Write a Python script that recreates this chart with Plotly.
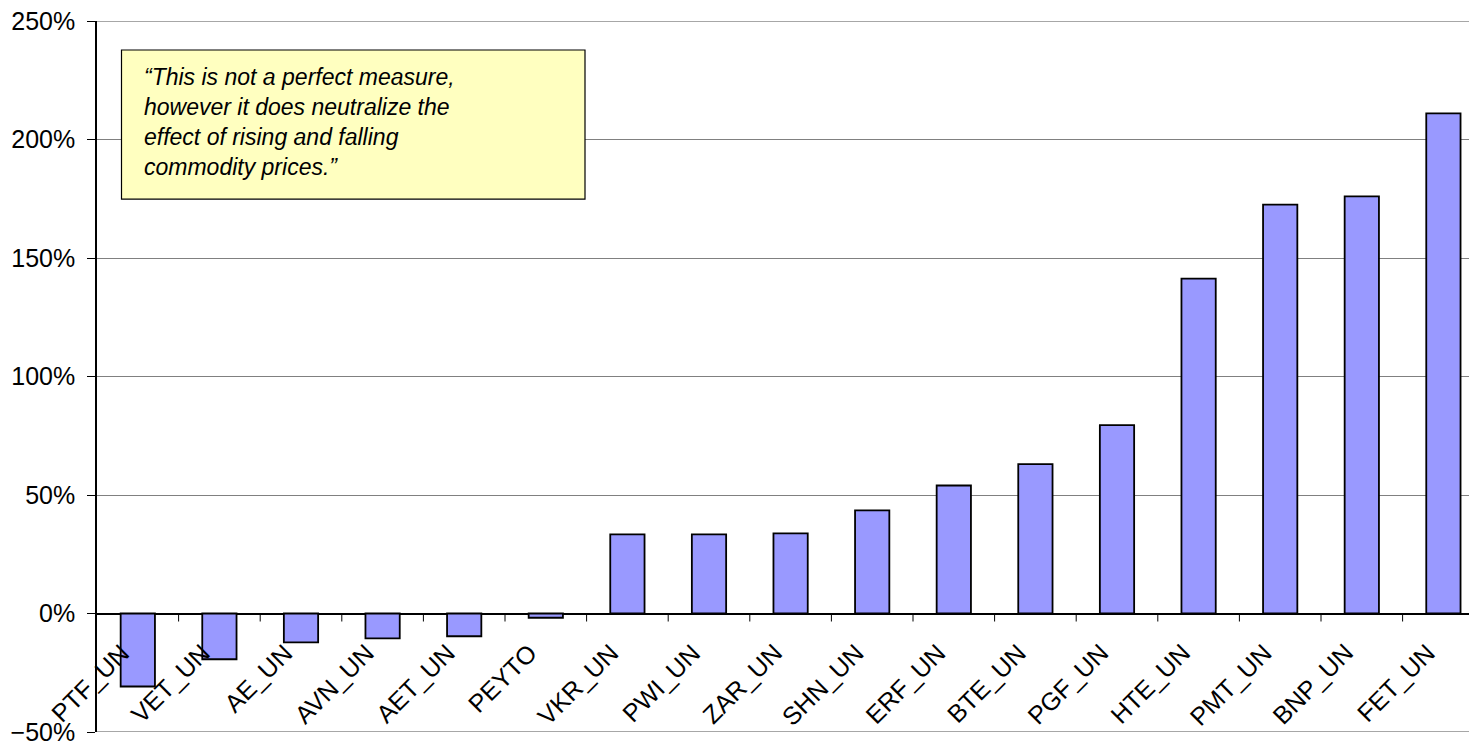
import plotly.graph_objects as go

categories = ["PTF_UN", "VET_UN", "AE_UN", "AVN_UN", "AET_UN", "PEYTO", "VKR_UN",
              "PWI_UN", "ZAR_UN", "SHN_UN", "ERF_UN", "BTE_UN", "PGF_UN", "HTE_UN",
              "PMT_UN", "BNP_UN", "FET_UN"]
values = [-0.308, -0.193, -0.122, -0.105, -0.096, -0.018, 0.334,
          0.334, 0.338, 0.435, 0.540, 0.630, 0.795, 1.413,
          1.725, 1.760, 2.110]
y_ticks = [-0.5, 0, 0.5, 1.0, 1.5, 2.0, 2.5]
quote_lines = ["\u201cThis is not a perfect measure,",
               "however it does neutralize the",
               "effect of rising and falling",
               "commodity prices.\u201d"]

# page offset from default body margin
OFF = 8
W, H = 1477 - OFF, 742
PLOT_L, PLOT_R, PLOT_T, PLOT_B = 97, 1477, 21, 731.7   # page pixel coords
ML = PLOT_L - OFF
MT = PLOT_T - OFF
MR = 0
plot_w = PLOT_R - PLOT_L
plot_h = PLOT_B - PLOT_T
MB = H - MT - plot_h
cat_px = 81.6
FONT = "Arial, Liberation Sans, sans-serif"

fig = go.Figure()
fig.add_trace(go.Bar(
    x=list(range(len(categories))), y=values,
    marker=dict(color="#9999FF", line=dict(color="black", width=1.8)),
    width=0.42, hoverinfo="skip", showlegend=False,
))

shapes = []
# gridlines at the range ends (Plotly omits them at the plot edges)
for yv in (y_ticks[0], y_ticks[-1]):
    shapes.append(dict(type="line", xref="paper", yref="y", x0=0, x1=1, y0=yv, y1=yv,
                       line=dict(color="#8a8a8a", width=1.5), layer="below"))
for i in range(len(categories) - 1):
    shapes.append(dict(type="line", xref="x", yref="y", x0=i + 0.5, x1=i + 0.5,
                       ysizemode="pixel", yanchor=0, y0=0, y1=-8,
                       line=dict(color="black", width=1)))

def px_to_paper_x(px):
    return (px - PLOT_L) / plot_w

def px_to_paper_y(py):
    return (PLOT_B - py) / plot_h

shapes.append(dict(type="rect", xref="paper", yref="paper",
                   x0=px_to_paper_x(121.5), x1=px_to_paper_x(585),
                   y0=px_to_paper_y(199), y1=px_to_paper_y(50),
                   fillcolor="#FFFFC0", line=dict(color="black", width=1.2), layer="above"))

annotations = []
for i, c in enumerate(categories):
    annotations.append(dict(x=i, y=0, xref="x", yref="y", text=c, showarrow=False,
                            textangle=-45, xanchor="right", yanchor="top",
                            xshift=-1, yshift=-22,
                            font=dict(family=FONT, size=25, color="black")))

line_y = [77, 107, 137, 167]
for t, py in zip(quote_lines, line_y):
    annotations.append(dict(x=px_to_paper_x(142), y=px_to_paper_y(py), xref="paper", yref="paper",
                            text="<i>" + t + "</i>", showarrow=False,
                            xanchor="left", yanchor="middle",
                            font=dict(family=FONT, size=23, color="black")))

fig.update_layout(
    width=W, height=H,
    margin=dict(l=ML, r=MR, t=MT, b=MB, pad=0),
    plot_bgcolor="white", paper_bgcolor="white",
    shapes=shapes, annotations=annotations,
    xaxis=dict(range=[-0.5, -0.5 + plot_w / cat_px], showticklabels=False, showgrid=False,
               zeroline=False, showline=False, ticks=""),
    yaxis=dict(range=[-0.5, 2.5], tickvals=y_ticks, tickformat=".0%",
               showgrid=True, gridcolor="#808080", gridwidth=1,
               zeroline=True, zerolinecolor="black", zerolinewidth=1.5,
               showline=True, linecolor="black", linewidth=1.5,
               ticks="outside", ticklen=8, tickcolor="black", ticklabeloverflow="allow",
               ticklabelstandoff=7,
               tickfont=dict(family=FONT, size=25, color="black")),
)

fig.write_html("out.html")
